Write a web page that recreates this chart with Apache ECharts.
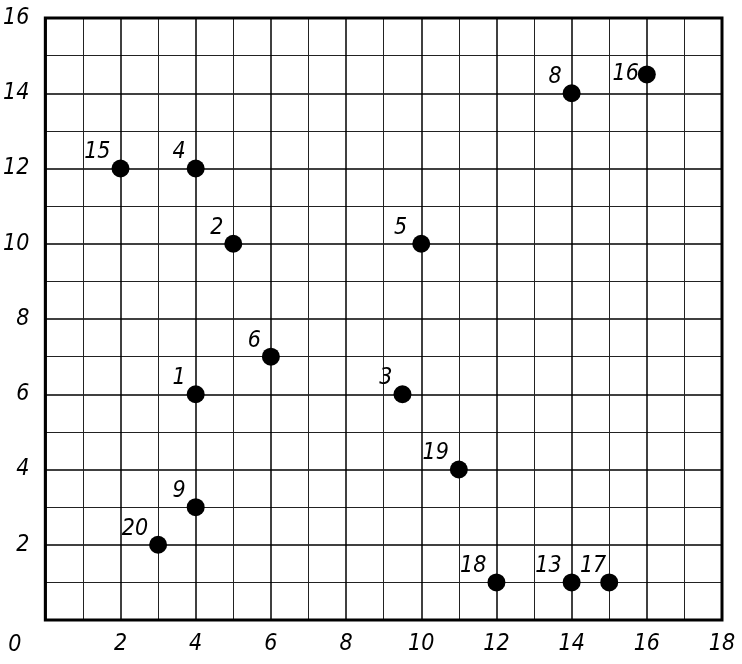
<!DOCTYPE html>
<html>
<head>
<meta charset="utf-8">
<script src="https://cdn.jsdelivr.net/npm/echarts@6/dist/echarts.min.js"></script>
<style>
  html, body { margin: 0; padding: 0; background: #fff; }
  #chart { width: 742px; height: 664px; }
</style>
</head>
<body>
<div id="chart"></div>
<script>
// point numbers and their coordinates
const pointNames = ['1', '2', '3', '4', '5', '6', '8', '9', '13', '15', '16', '17', '18', '19', '20'];
const xValues = [4, 5, 9.5, 4, 10, 6, 14, 4, 14, 2, 16, 15, 12, 11, 3];
const yValues = [6, 10, 6, 12, 10, 7, 14, 3, 1, 12, 14.5, 1, 1, 4, 2];

const xTicks = [0, 2, 4, 6, 8, 10, 12, 14, 16, 18];
const yTicks = [0, 2, 4, 6, 8, 10, 12, 14, 16];

const labelFont = ['DejaVu Sans Condensed', 'Liberation Sans Narrow', 'DejaVu Sans', 'sans-serif'].join(',');

// a few labels sit a bit differently from the default upper-left spot
const labelOffsets = { '16': [1, 0], '17': [6, -16], '5': [-5, -16] };

const chart = echarts.init(document.getElementById('chart'));

const seriesData = pointNames.map((name, i) => ({
  name: name,
  value: [xValues[i], yValues[i]],
  label: { offset: labelOffsets[name] || [-1, -16] }
}));

const textStyle = {
  color: '#000',
  fontFamily: labelFont,
  fontStyle: 'italic',
  fontWeight: 'lighter',
  fontSize: 23
};

const option = {
  animation: false,
  grid: {
    left: 44,
    right: 20,
    top: 18,
    bottom: 44,
    show: true,
    borderColor: '#000',
    borderWidth: 3,
    backgroundColor: 'transparent',
    z: 3
  },
  xAxis: {
    type: 'value',
    min: xTicks[0],
    max: xTicks[xTicks.length - 1],
    interval: 2,
    axisLine: { show: false },
    axisTick: { show: false },
    axisLabel: Object.assign({}, textStyle, {
      margin: 13,
      showMinLabel: false,
      formatter: v => xTicks.includes(v) ? String(v) : ''
    }),
    splitLine: { show: true, lineStyle: { color: '#000', width: 1.5 } },
    minorTick: { show: false, splitNumber: 2 },
    minorSplitLine: { show: true, lineStyle: { color: '#222', width: 1 } }
  },
  yAxis: {
    type: 'value',
    min: yTicks[0],
    max: yTicks[yTicks.length - 1],
    interval: 2,
    axisLine: { show: false },
    axisTick: { show: false },
    axisLabel: Object.assign({}, textStyle, {
      margin: 16,
      formatter: v => v === 0 ? '{zero|0}' : String(v),
      rich: {
        zero: Object.assign({}, textStyle, { padding: [50, 8, 0, 0] })
      }
    }),
    splitLine: { show: true, lineStyle: { color: '#000', width: 1.5 } },
    minorTick: { show: false, splitNumber: 2 },
    minorSplitLine: { show: true, lineStyle: { color: '#222', width: 1 } }
  },
  series: [{
    type: 'scatter',
    symbol: 'circle',
    symbolSize: 18,
    itemStyle: { color: '#000', opacity: 1 },
    label: Object.assign({}, textStyle, {
      show: true,
      position: 'left',
      distance: 0,
      formatter: p => p.name
    }),
    data: seriesData,
    z: 5
  }]
};

chart.setOption(option);
</script>
</body>
</html>
